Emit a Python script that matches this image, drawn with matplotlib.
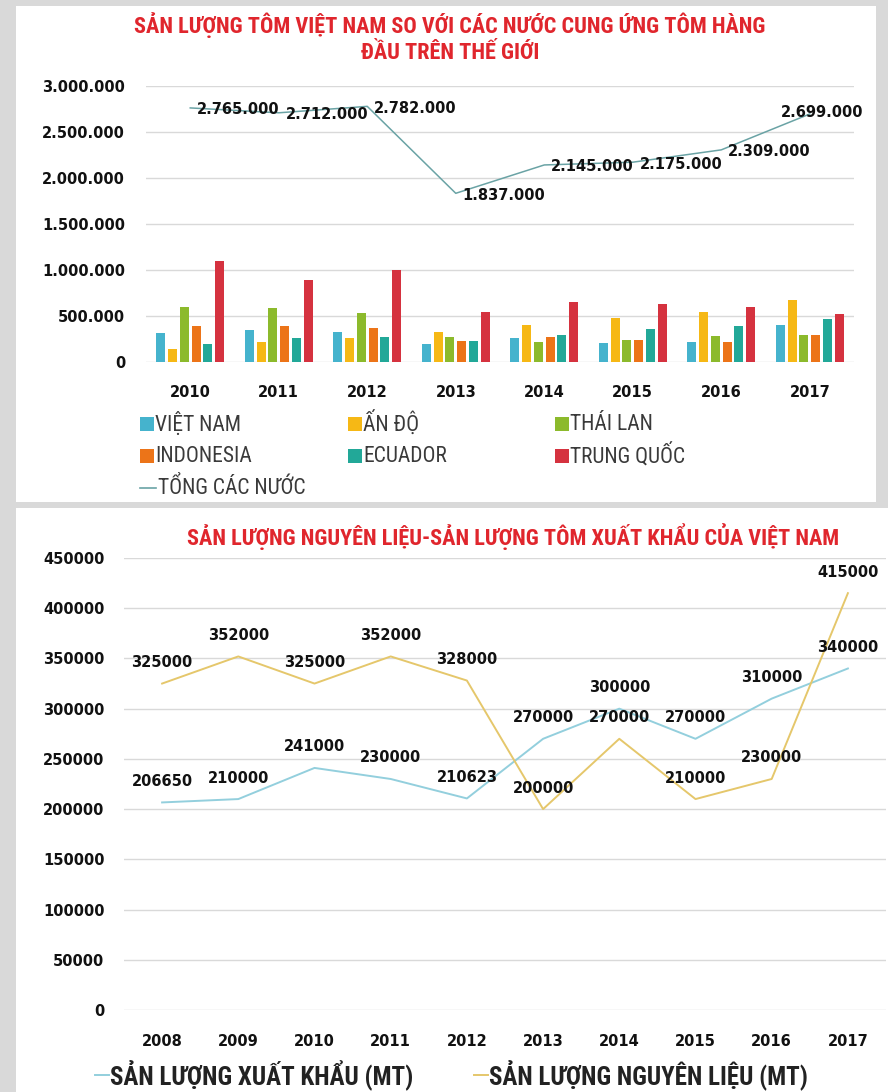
import matplotlib
matplotlib.use("Agg")
import matplotlib.pyplot as plt
import numpy as np
from matplotlib import font_manager as fm
from matplotlib.patches import Rectangle
from matplotlib.lines import Line2D
from matplotlib.ticker import FuncFormatter, MultipleLocator

# ---------------- data ----------------
years_top = ["2010", "2011", "2012", "2013", "2014", "2015", "2016", "2017"]
countries = ["VIỆT NAM", "ẤN ĐỘ", "THÁI LAN", "INDONESIA", "ECUADOR", "TRUNG QUỐC"]
viet_nam = [315000, 348000, 330000, 196000, 264000, 210000, 221000, 409000]
an_do = [141000, 221000, 264000, 333000, 409000, 478000, 547000, 681000]
thai_lan = [601000, 587000, 536000, 279000, 221000, 246000, 286000, 301000]
indonesia = [398000, 398000, 373000, 235000, 279000, 246000, 221000, 301000]
ecuador = [196000, 264000, 279000, 235000, 301000, 359000, 395000, 467000]
trung_quoc = [1101000, 898000, 1007000, 547000, 656000, 630000, 601000, 522000]
total_name = "TỔNG CÁC NƯỚC"
tong_cac_nuoc = [2765000, 2712000, 2782000, 1837000, 2145000, 2175000, 2309000, 2699000]

years_bottom = ["2008", "2009", "2010", "2011", "2012", "2013", "2014", "2015", "2016", "2017"]
xuat_khau = [206650, 210000, 241000, 230000, 210623, 270000, 300000, 270000, 310000, 340000]
nguyen_lieu = [325000, 352000, 325000, 352000, 328000, 200000, 270000, 210000, 230000, 415000]
bottom_names = ["SẢN LƯỢNG XUẤT KHẨU (MT)", "SẢN LƯỢNG NGUYÊN LIỆU (MT)"]

title_top = "SẢN LƯỢNG TÔM VIỆT NAM SO VỚI CÁC NƯỚC CUNG ỨNG TÔM HÀNG\nĐẦU TRÊN THẾ GIỚI"
title_bottom = "SẢN LƯỢNG NGUYÊN LIỆU-SẢN LƯỢNG TÔM XUẤT KHẨU CỦA VIỆT NAM"

# ---------------- style ----------------
installed = {f.name for f in fm.fontManager.ttflist}


def pick(*cands):
    for c in cands:
        if c in installed:
            return c
    return "DejaVu Sans"


NARROW = pick("Liberation Sans Narrow", "Roboto Condensed", "Open Sans Condensed", "Liberation Sans")
NUM = pick("DejaVu Sans")
narrow = [NARROW, "DejaVu Sans"]

BG = "#d9d9d9"
GRID = "#d9d9d9"
RED = "#e0262d"
bar_colors = ["#45b3cd", "#f6b815", "#8cba2c", "#ec7418", "#22a898", "#d5323f"]
total_color = "#6aa3a5"
blue_line = "#93cfdd"
yellow_line = "#e5c76b"

W, H = 888, 1092
fig = plt.figure(figsize=(W / 100, H / 100), dpi=100, facecolor=BG)


def px_box(x0, y0, x1, y1):
    """Convert a pixel box (top-left origin) into figure coordinates."""
    return [x0 / W, 1 - y1 / H, (x1 - x0) / W, (y1 - y0) / H]


# white panels
for (x0, y0, x1, y1) in [(16, 6, 876, 502), (16, 508, 888, 1092)]:
    b = px_box(x0, y0, x1, y1)
    fig.add_artist(Rectangle((b[0], b[1]), b[2], b[3], transform=fig.transFigure,
                             facecolor="white", edgecolor="none", zorder=0))


def dotted(v, _pos=None):
    return f"{int(v):,}".replace(",", ".")


def style_axes(ax):
    for s in ax.spines.values():
        s.set_visible(False)
    ax.tick_params(length=0)
    ax.grid(axis="y", color=GRID, linewidth=1.0)
    ax.set_axisbelow(True)
    ax.set_facecolor("none")


def style_ticks(ax):
    for lab in ax.get_xticklabels() + ax.get_yticklabels():
        lab.set_fontsize(10.5)
        lab.set_fontweight("bold")
        lab.set_family(NUM)
        lab.set_color("#111111")


# ---------------- top chart ----------------
ax1 = fig.add_axes(px_box(146, 86.3, 854, 362.3))
style_axes(ax1)
x = np.arange(len(years_top))
series = [viet_nam, an_do, thai_lan, indonesia, ecuador, trung_quoc]
bw, step = 0.10, 0.133
for i, (vals, col) in enumerate(zip(series, bar_colors)):
    ax1.bar(x + (i - 2.5) * step, vals, width=bw, color=col, zorder=2)
ax1.plot(x, tong_cac_nuoc, color=total_color, linewidth=1.1, zorder=3)
for i, v in enumerate(tong_cac_nuoc):
    last = i == len(tong_cac_nuoc) - 1
    ax1.annotate(dotted(v), (x[i], v),
                 xytext=(12, 1) if last else (7, -2), textcoords="offset pixels",
                 ha="center" if last else "left", va="center", fontsize=10.5,
                 fontweight="bold", family=NUM, color="#111111", zorder=4)
ax1.set_xlim(-0.5, len(years_top) - 0.5)
ax1.set_ylim(0, 3000000)
ax1.yaxis.set_major_locator(MultipleLocator(500000))
ax1.yaxis.set_major_formatter(FuncFormatter(dotted))
ax1.set_xticks(x, years_top)
ax1.tick_params(axis="y", pad=15)
ax1.tick_params(axis="x", pad=16)
style_ticks(ax1)

fig.text(450 / W, 1 - 38 / H, title_top, ha="center", va="center", color=RED,
         fontsize=16, fontweight="bold", family=narrow, linespacing=1.2)

# legend of the top chart
leg_cols = [140, 348, 555]
leg_rows = [424, 456, 488]
for k, (name, col) in enumerate(zip(countries, bar_colors)):
    cx = leg_cols[k % 3]
    cy = leg_rows[k // 3]
    b = px_box(cx, cy - 7, cx + 14, cy + 7)
    fig.add_artist(Rectangle((b[0], b[1]), b[2], b[3], transform=fig.transFigure,
                             facecolor=col, edgecolor="none"))
    fig.text((cx + 15) / W, 1 - cy / H, name, ha="left", va="center", fontsize=15.5,
             family=narrow, color="#3a3a3a")
cy = leg_rows[2]
fig.add_artist(Line2D([140 / W, 156 / W], [1 - cy / H, 1 - cy / H], transform=fig.transFigure,
                      color=total_color, linewidth=1.2))
fig.text(158 / W, 1 - cy / H, total_name, ha="left", va="center", fontsize=15.5,
         family=narrow, color="#3a3a3a")

# ---------------- bottom chart ----------------
ax2 = fig.add_axes(px_box(124, 558, 886, 1010))
style_axes(ax2)
xb = np.arange(len(years_bottom))
ax2.plot(xb, xuat_khau, color=blue_line, linewidth=1.4, zorder=3)
ax2.plot(xb, nguyen_lieu, color=yellow_line, linewidth=1.4, zorder=3)
for vals in (xuat_khau, nguyen_lieu):
    for i, v in enumerate(vals):
        ax2.annotate(str(v), (xb[i], v), xytext=(0, 21), textcoords="offset pixels",
                     ha="center", va="center", fontsize=10.5, fontweight="bold",
                     family=NUM, color="#111111", zorder=4, annotation_clip=False)
ax2.set_xlim(-0.5, len(years_bottom) - 0.5)
ax2.set_ylim(0, 450000)
ax2.yaxis.set_major_locator(MultipleLocator(50000))
ax2.yaxis.set_major_formatter(FuncFormatter(lambda v, p: f"{int(v)}"))
ax2.set_xticks(xb, years_bottom)
ax2.tick_params(axis="y", pad=14)
ax2.tick_params(axis="x", pad=17)
style_ticks(ax2)

fig.text(513 / W, 1 - 537 / H, title_bottom, ha="center", va="center", color=RED,
         fontsize=16, fontweight="bold", family=narrow)

# legend of the bottom chart
ly = 1075
for (lx, name, col) in [(95, bottom_names[0], blue_line), (474, bottom_names[1], yellow_line)]:
    fig.add_artist(Line2D([lx / W, (lx + 14) / W], [1 - ly / H, 1 - ly / H],
                          transform=fig.transFigure, color=col, linewidth=1.4))
    fig.text((lx + 15) / W, 1 - ly / H, name, ha="left", va="center", fontsize=18,
             fontweight="bold", family=narrow, color="#222222")

fig.savefig("out.png", dpi=100, facecolor=BG)
